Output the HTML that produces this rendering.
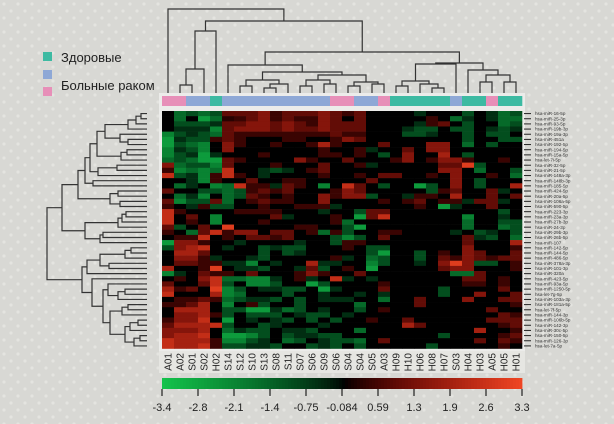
<!DOCTYPE html>
<html><head><meta charset="utf-8"><style>
html,body{margin:0;padding:0;background:#d8d8d4;}
svg{display:block;font-family:"Liberation Sans",sans-serif;}
</style></head><body>
<svg id="chart" width="614" height="424" viewBox="0 0 614 424" xmlns="http://www.w3.org/2000/svg">
<defs><pattern id="dots" width="14" height="14" patternUnits="userSpaceOnUse"><circle cx="4" cy="4" r="1.6" fill="#e4e4e0"/><circle cx="11" cy="11" r="1.6" fill="#e4e4e0"/></pattern></defs>
<rect width="614" height="424" fill="#d8d8d4"/>
<rect width="614" height="424" fill="url(#dots)"/>
<g>
<rect x="43" y="52" width="9" height="9" fill="#3dbaa2"/>
<text x="61" y="62" font-size="13" fill="#222">Здоровые</text>
<rect x="43" y="70" width="9" height="9" fill="#8ea8d6"/>
<rect x="43" y="87" width="9" height="9" fill="#e78fb8"/>
<text x="61" y="90" font-size="13" fill="#222">Больные раком</text>
</g>
<rect x="159" y="93" width="366" height="16" fill="#ececea"/>
<rect x="159" y="109" width="366" height="242" fill="#ececea"/>
<rect x="159" y="351" width="366" height="22" fill="#e6e6e2"/>
<g id="groups"></g><g id="cells"></g><g id="coltree"></g><g id="rowtree"></g>
<g id="collabels"></g><g id="rowlabels"></g><g id="cbar"></g>
</svg>
<script>
const colNames=["A01","A02","S01","S02","H02","S14","S12","S10","S13","S08","S11","S07","S06","S09","S06","S04","S04","S05","A03","H09","H10","H06","H08","H07","S03","H04","H03","A05","H05","H01"];
const colGroups=["p","p","b","b","t","b","b","b","b","b","b","b","b","b","p","p","b","b","p","t","t","t","t","t","b","t","t","p","t","t"];
const rowNames=["16-5p","25-3p","93-5p","19b-3p","19a-3p","451a","192-5p","194-5p","15a-5p","let-7i-5p","32-5p","21-5p","148a-3p","148b-3p","185-5p","424-5p","20a-5p","106a-5p","590-5p","223-3p","23a-3p","27b-3p","24-3p","29b-3p","26b-5p","107","142-5p","144-5p","486-5p","378a-3p","101-3p","320a","423-5p","93a-5p","1250-5p","let-7g-5p","103a-3p","181a-5p","let-7f-5p","144-3p","106b-5p","142-3p","30c-5p","150-5p","126-3p","let-7a-5p"];
const tickLabels=["-3.4","-2.8","-2.1","-1.4","-0.75","-0.084","0.59","1.3","1.9","2.6","3.3"];
const vmin=-3.4, vmax=3.3;
const values=[
[0,-1.5,-1,-1.5,-1,1,1,1,1.5,0.5,1,1,1,1.5,1,0.5,1,0,0,0,0,-0.5,0,0,0,-1,0,-0.5,-1.5,-1],
[0,-1.5,0,-2.5,-1.5,0.3,0.5,1,1.5,0.5,1,0.5,0.5,1.5,1,0,1,0,0,0,0,0,0.5,0,-1.5,-0.5,0,-0.5,-1.5,-1.5],
[0,-1,-1,-1,-0.5,1,1,1.5,1.5,1,1.5,1,0.5,1.5,1,1,1,0,0,0,0,-0.5,0.5,1,0,-1,0,0,-1.5,-1],
[0,-0.5,-0.5,-0.5,-2,1,1.5,1.5,1.5,1,1.5,1,1,1.5,1,1,1,0,0,0,-0.5,-1,-1,0,-1,-1,0,-0.5,-1,-0.5],
[-2,-1,-0.5,-1,-1.5,1,0.5,0.5,0.5,0.5,0.5,0.5,0.5,0.5,1,0.5,0.5,0,0,0,-1,-1,-0.5,0,0,-1,0,-1,-1,0],
[-2.5,-0.5,-1,-1,0.5,1,0.5,0,0,0,0.5,0.5,0,0,0.5,1.5,1,0,0,0,0,0,0,0,0,-1,0,0,-1,-1],
[-2.5,-1,-1.5,-2,0,1.5,0.5,0,0,0.5,0,0,0.5,2,0.5,0,0,0,1,0,0,0,1.5,1.5,0,-1.5,0,-1,0,0],
[-2,-0.5,-1,-2,0,1.5,0,0,0,0,0,0,0,0.5,0,0,0.5,-0.5,0,0,1,0,1.5,1.5,0,0,0,0,0,0],
[-2,-1,-0.5,-2.5,-0.5,0,0,0,0.5,0,0,0,0,0.5,0.5,0,0.5,0,-1,0,1.5,0,0,2,0,-1,0,0,0,0],
[-1.5,-1,-1.5,-2.5,-2.5,1,0.5,0,0,0,0,1.5,0.5,0,0,1,0,0,0,0.5,1.5,0,0.5,1.5,1.5,0.5,0,0,0.5,0],
[1.5,-1.5,-1,-1,-2,1,0,0,0,0.5,0,0,0,1,0,0,0.5,-0.5,0,0,0,0,0,1,1,3,-1,0,0,0],
[0.5,-2,-1.5,-2,-1.5,2.5,0,0,-0.5,-1,-0.5,0,0.5,1,0,0,0,0,0,0,0,0,0,1.5,1.5,0,-1.5,0,0,-1],
[2.5,-1,-0.5,-2,0.5,2.5,0.5,0,-0.5,0,0,0,0,0.5,0,0,0.5,0,1,1,0,0,0.5,0,1.5,0,0,0.5,0,-1.5],
[0,0,-0.5,-2,0.5,0,0,1,0,0,0.5,0.5,0,0,0,0,0,1,0,0,0,0,0,0,1.5,0,-1,0,0,0],
[0,-1.5,-0.5,0,-2,-1.5,2.5,0.5,0.5,-0.5,1,0.5,0,-2,0,2.5,1,0,-1,0,0,-2.5,-1,0,1.5,0,-1,0,0,2],
[1,0,0,-1,-1,-1.5,-1,0.5,1,0.5,1,0,0,0,0.5,1.5,1,0,0,0,0,0,-1,0.5,1,0,0,1,-0.5,0],
[0,-1.5,-0.5,-2,0,-1.5,-1,1,0.5,0,0.5,0,0,1.5,0.5,1.5,1.5,-1,0,0,-0.5,0.5,0.5,0,2,0,0,1,0,1],
[1,-2,-1,-1,1,-1.5,0,0.5,1,0.5,0.5,0,0,1.5,0,0,0,0,0.5,0,0.5,1,0,0.5,0.5,-0.5,1,1,-0.5,0],
[0.5,0,-0.5,0.5,-1,-1,0,0,0.5,0,0,0.5,0.5,0.5,-0.5,0,0,0,0,0,0,0.5,0,-2.5,-0.5,0,0,1,0,0],
[2.5,0.5,0,0,0,0,0.5,0.5,0.5,0.5,0,0,0,-0.5,0,0,-1,1,1,0,0,0,0,0,0,0,0,0,-1,0],
[2.5,0,1,0,-2,0,0,0,0,1,-0.5,0,0,0,0.5,0,-2.5,1,2.5,0,0,0,0,0,0,-2,0,0,-0.5,0],
[2.5,0,0.5,0,-2,0,0,0,0.5,0,0,0,0,0,0.5,-1.5,0,0,0,0,0,0,0,0,0,-1.5,0,0,-1,-1],
[1,-1,0,1,0,3,0,0,0,0,0,0.5,0.5,0,0,-1,-2.5,0,0,0,0,0,0,0,0,-1.5,0,0,-1.5,-1],
[0.5,0,-1.5,1,2.5,0.5,1.5,1.5,0,1,1,0,0.5,-1.5,0.5,-1,0,0,0.5,0.5,0,0,0,0,-0.5,0,-1,-0.5,0,-1],
[0,0.5,0.5,2.5,0,0.5,0,1,1,0.5,1,0,0,0,-1,-2,-1,0,1,0,0,0,0,0,0,1,-0.5,-1,0,-1.5],
[-2.5,1.5,1.5,0.5,0,0,-0.5,0,0,0,0,-0.5,0,0,-1,0.5,0.5,0,0,0,0,0,0,0,0,1,0,0,0,2],
[-1,1.5,2,2.5,0,-0.5,0,0,-1,-0.5,-1,-1,0,0,0,0.5,0,-1,-1,0,0,0,0,0,0,1.5,0,0,0,0.5],
[0,2,2,1,0,0,0,0,-1,0,-1,-0.5,0,0,0,0,0,-1,-2.5,0,0,-1,0,0.5,0,1.5,1,0,0,1],
[0,1.5,1.5,0.5,-0.5,0,0,-0.5,-1,0,0,0,0,0,0.5,-0.5,0,-1.5,-1,0,0,-1,0,1,0.5,1.5,1,0.5,1,1],
[0,1,1,0.5,0.5,-0.5,-0.5,-2,0,-0.5,0,0,2,-0.5,-0.5,0,0,-2,-1,0,0,-0.5,0,1.5,3,1.5,-1,-1,0,0.5],
[2,0,0,0.5,3,0,-0.5,-0.5,-1,0,0,-0.5,1,-1,0,0.5,0,-2.5,0,0,0,0,0,1,1.5,1.5,0,0,0,0.5],
[-2,-0.5,0,1,0.5,0.5,0,1,0,0,0,0.5,1.5,0.5,0,0,1,0,0,0,0,0,0,0,-1.5,-1.5,1,0,0,0],
[0,0.5,0,1.5,2.5,-1.5,-1.5,-2,-2,-0.5,0,0.5,-0.5,0,2.5,-0.5,0,-0.5,0,0,0,0,0,0,0,1,1,0,0.5,0],
[1,0,0,1,2.5,-1,0,-2,-2,-1,0,0,-2.5,-1,0,0,0,0,0.5,0,0,0,0,0,0,0.5,0.5,0,0.5,0],
[2,0.5,1,0,3,-2,-1,0,-0.5,-0.5,-1,-1,0,-2.5,-0.5,0,0,0,1,0,0,0,0,-1,0,0,0,0,1,0],
[2.5,0,0,0,2,-2,-1.5,0,0,0,-1,0,0,-0.5,0,0,-0.5,0,-0.5,0,0,0,0,-1,0,0,1.5,0,0,1],
[0,0.5,0.5,1,0.5,-1.5,-1,-0.5,-0.5,-1,0,-1,0,-0.5,-0.5,-0.5,0,0,-1.5,0,0,1,0,0,0,1.5,0,0,1,1],
[0.5,0.5,1,2,0,-2,0,0.5,-1,0,0,-1,0,0,0,0,-1.5,0,0,0,0,1,0,0,0,0,0,0,0,0.5],
[0,2,2,2,0,-1,-1,-2.5,-2.5,-0.5,-1.5,-1,0,-0.5,0,0,-1,0,0.5,0,0,0,0,0,0,0,0,1,0,0],
[0,1.5,1.5,2,0.5,-1,0,-1,-1,-1,0,-0.5,-1,-1,0,-0.5,0,0,0,0,0,0,0,0,0,0,0,0,1,0.5],
[0.5,1.5,1.5,2.5,0,-2.5,0,-0.5,0,-0.5,-1,0,-1,0,-1,0,0,0.5,0,0,1,0,0,0,0,0,0,1,1,1],
[1,2,2,2,2.5,-1,0,0,-1,-0.5,0,0,0,-0.5,0,0,0,0,0,0,2,1,0,0,0,0,0,0,0.5,1],
[1.5,1.5,1.5,2,0,-1.5,-0.5,-1,-1,0,-0.5,-0.5,-1,0,0,0,-1.5,0,0,0,0,0,0,0,0,0,2,0,0,0.5],
[1.5,2,2,2.5,0,-2.5,-2.5,-2,-1,0,-1,-0.5,-0.5,-1,-1,0,0,0,0,0,0,0,0,-1,0,0,0,0,0.5,1],
[2.5,2,2,2,0.5,-2,-2,-1,-0.5,0,-1.5,-1,0,-0.5,-1,-1,-1.5,0,1,0,0,0,0,0,0,0,1,0,1,0.5],
[2.5,2,2,2.5,0.5,-1,-1,-0.5,-0.5,-1,0,0,-1,-0.5,-1,0,-1,0,0,0,0,0,-1,0,0,0,0,0,0.5,0]
];
// dendrogram topologies: [joinHeight, left, right], leaf = index
const colTree=[9,0,[21,[31,[69,[85,1,2],3],4],[52,[65,5,[72,[80,[86,6,7],[84,[88,8,9],10]],[75,[80,[86,11,12],[84,13,14]],[82,[86,15,16],[84,17,18]]]]],[63,[64,[81,[86,19,20],[84,21,[88,22,23]]],24],[70,25,[75,[82,26,27],[82,28,29]]]]]]];
const rowTree=[47,[62,[78,[85,[90,[97,[105,[128,[136,[141,0,1],2],3],[120,4,[128,5,6]]],[121,[127,7,8],9]],[98,[117,10,11],12]],[93,13,14]],[110,[118,15,16],[120,17,18]]],[85,[118,[122,[126,19,20],21],22],[100,[103,23,24],25]]],[82,[87,[100,[125,[131,26,27],28],[109,29,30]],31],[92,32,[103,[108,33,[118,[125,34,35],36]],[110,[122,[128,37,38],39],[125,[130,[138,40,41],42],[134,[140,43,44],45]]]]]]];

const NS="http://www.w3.org/2000/svg";
const HX0=162,HX1=522,HY0=111,HY1=348.5;
const nC=colNames.length,nR=values.length;
const cw=(HX1-HX0)/nC,rh=(HY1-HY0)/nR;
const xCol=i=>HX0+i*cw, yRow=j=>HY0+j*rh;
const groupColor={p:"#e78fb8",b:"#8ea8d6",t:"#3dbaa2"};
function colorOf(v){
  if(v>=0){const t=Math.pow(Math.min(v/vmax,1),0.75);return `rgb(${Math.round(240*t)},${Math.round(70*t*t)},${Math.round(35*t*t)})`;}
  const t=Math.pow(Math.min(-v/-vmin,1),0.75);return `rgb(${Math.round(20*t*t)},${Math.round(195*t)},${Math.round(75*t)})`;
}
function mk(tag,attrs,parent){const e=document.createElementNS(NS,tag);for(const k in attrs)e.setAttribute(k,attrs[k]);parent.appendChild(e);return e;}
const gCells=document.getElementById('cells');
values.forEach((row,j)=>row.forEach((v,i)=>{
  const r=mk('rect',{x:xCol(i).toFixed(2),y:yRow(j).toFixed(2),width:(cw+0.3).toFixed(2),height:(rh+0.3).toFixed(2),fill:colorOf(v)},gCells);
  
  
}));
const gGroups=document.getElementById('groups');
colGroups.forEach((g,i)=>{
  const r=mk('rect',{x:xCol(i),y:96,width:cw+0.3,height:10,fill:groupColor[g]},gGroups);
  
  
});
// column dendrogram
const gCT=document.getElementById('coltree');
function drawCol(n){
  if(typeof n==='number')return {x:xCol(n)+cw/2,y:93};
  const a=drawCol(n[1]),b=drawCol(n[2]),h=n[0];
  const p=mk('path',{d:`M${a.x},${a.y}V${h}H${b.x}V${b.y}`,fill:"none",stroke:"#333","stroke-width":1.2},gCT);
  
  
  return {x:(a.x+b.x)/2,y:h};
}
drawCol(colTree);
const gRT=document.getElementById('rowtree');
function drawRow(n){
  if(typeof n==='number')return {x:147,y:yRow(n)+rh/2};
  const a=drawRow(n[1]),b=drawRow(n[2]),h=n[0];
  const p=mk('path',{d:`M${a.x},${a.y}H${h}V${b.y}H${b.x}`,fill:"none",stroke:"#333","stroke-width":1.2},gRT);
  
  
  return {x:h,y:(a.y+b.y)/2};
}
drawRow(rowTree);
const gCL=document.getElementById('collabels');
colNames.forEach((n,i)=>{
  const x=xCol(i)+cw/2+3.5;
  const t=mk('text',{x:x,y:353,transform:`rotate(-90 ${x} 353)`,"font-size":10,"text-anchor":"end",fill:"#222"},gCL);
  t.textContent=n;
  
  
});
const gRL=document.getElementById('rowlabels');
rowNames.forEach((n,j)=>{
  const y=yRow(j)+rh/2;
  const l=mk('line',{x1:524,x2:531,y1:y,y2:y,stroke:"#222","stroke-width":1},gRL);
  
  
  const t=mk('text',{x:535,y:y+1.6,"font-size":4.6,fill:"#333"},gRL);
  t.textContent=(n.startsWith('let')?'hsa-':'hsa-miR-')+n;
  
  
});
// colour bar
const gCB=document.getElementById('cbar');
const steps=120;
for(let k=0;k<steps;k++){
  const v=vmin+(vmax-vmin)*(k+0.5)/steps;
  const r=mk('rect',{x:HX0+(HX1-HX0)*k/steps,y:378,width:(HX1-HX0)/steps+0.4,height:11,fill:colorOf(v)},gCB);
  
  
}
tickLabels.forEach((s,k)=>{
  const x=HX0+(HX1-HX0)*k/(tickLabels.length-1);
  const l=mk('line',{x1:x,x2:x,y1:389,y2:396,stroke:"#222","stroke-width":1.2},gCB);
  
  
  const t=mk('text',{x:x,y:411,"font-size":11,"text-anchor":"middle",fill:"#222"},gCB);
  t.textContent=s;
  
  
});
</script>
</body></html>
